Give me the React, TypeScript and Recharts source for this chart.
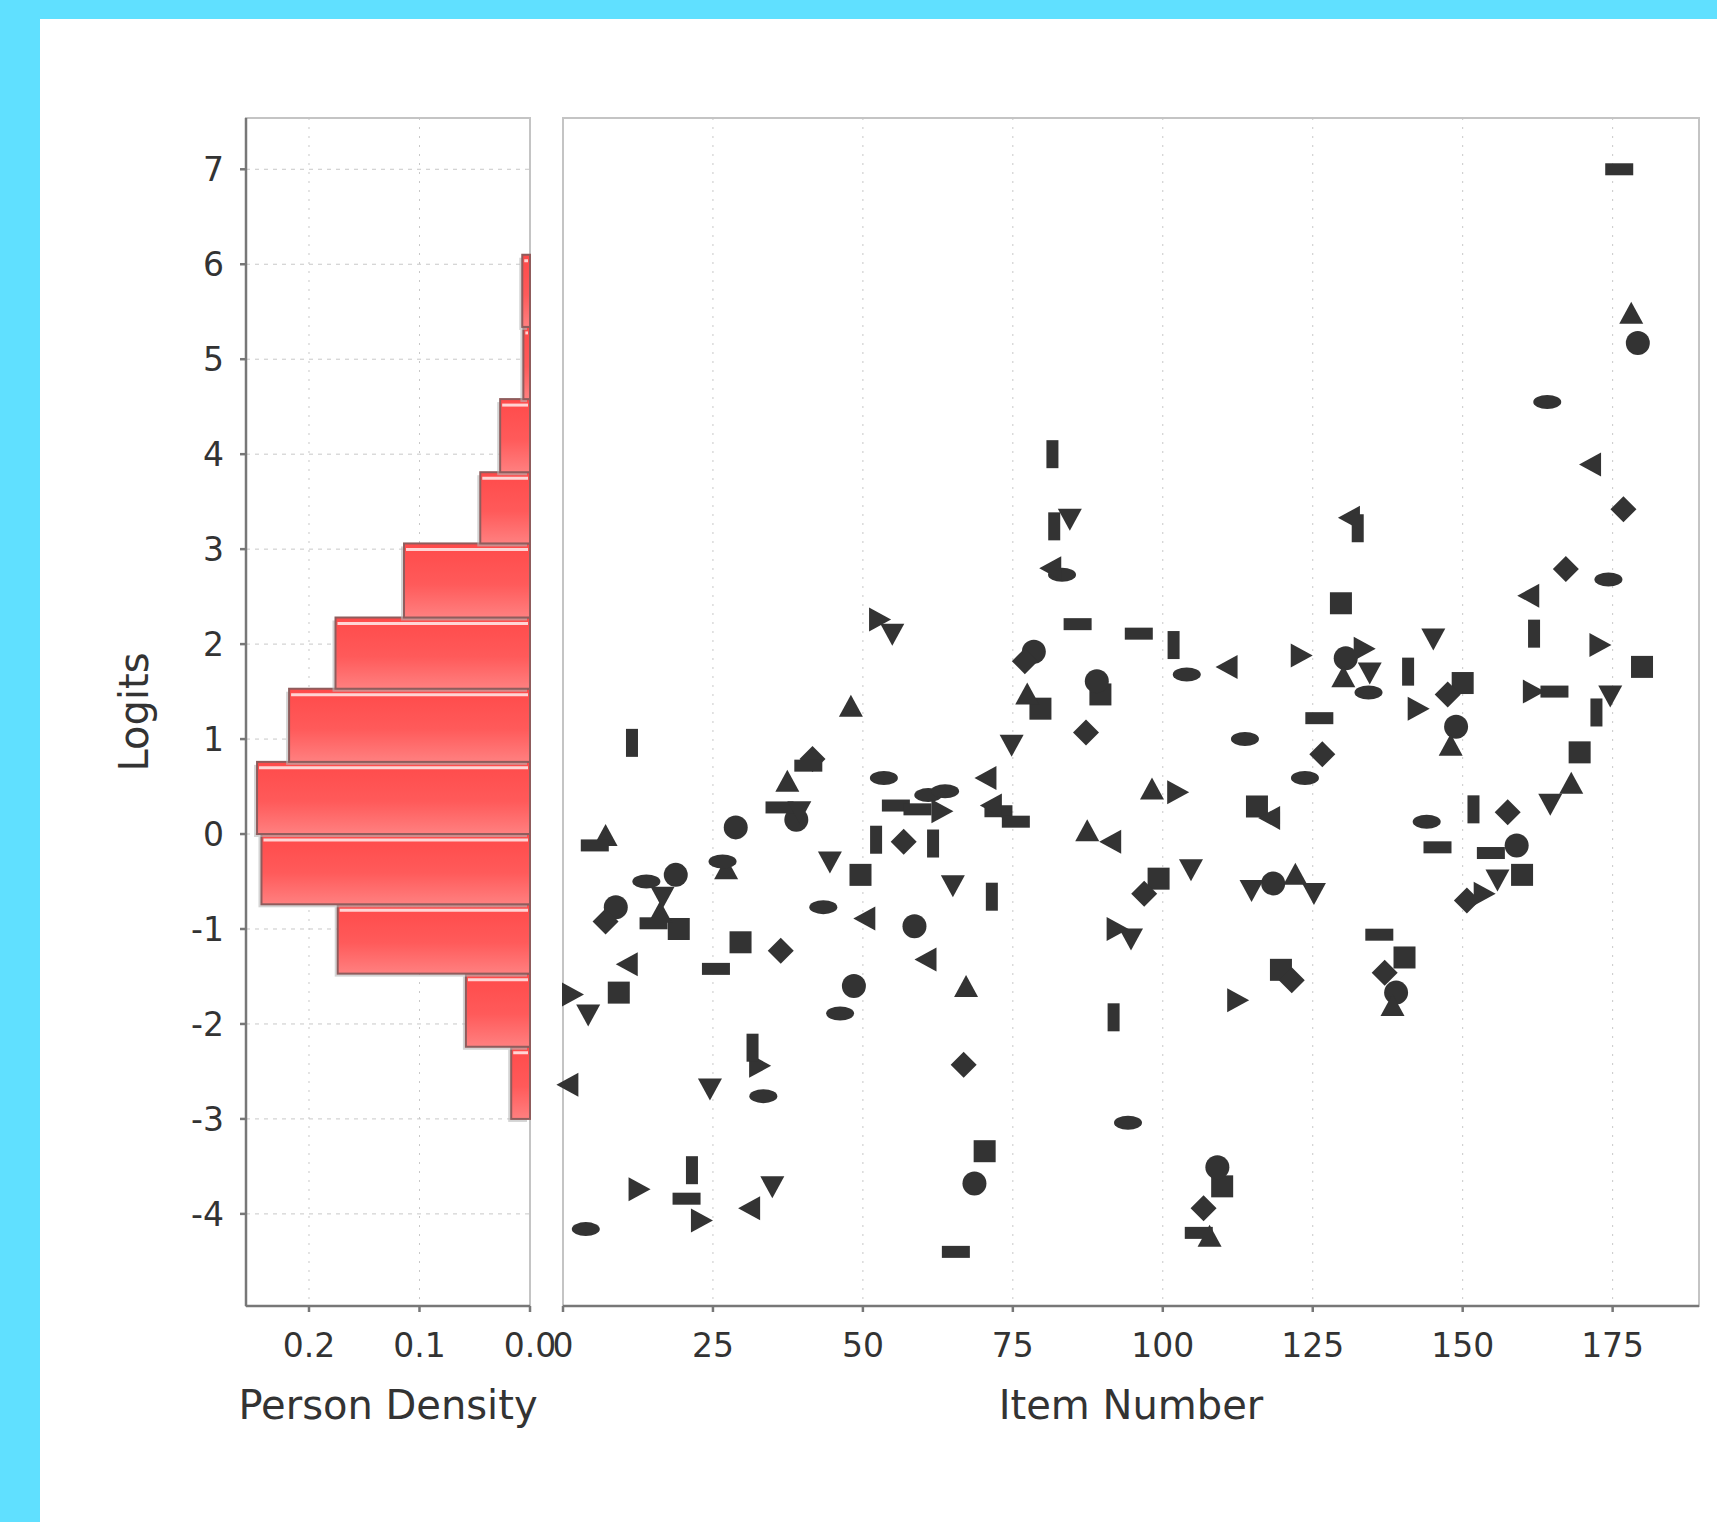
import React from 'react';
import {ScatterChart, Scatter, XAxis, YAxis, CartesianGrid, ReferenceArea} from 'recharts';

// person density histogram: [lower logit, upper logit, density]
const personBins = [
    [-3.0, -2.24, 0.017],
    [-2.24, -1.47, 0.058],
    [-1.47, -0.74, 0.174],
    [-0.74, 0.0, 0.243],
    [0.0, 0.76, 0.247],
    [0.76, 1.53, 0.218],
    [1.53, 2.28, 0.176],
    [2.28, 3.06, 0.114],
    [3.06, 3.81, 0.045],
    [3.81, 4.58, 0.027],
    [4.58, 5.34, 0.006],
    [5.34, 6.1, 0.007],
];

// items: [item number, logit], grouped by marker shape
const squares = [[129.7, 2.43], [179.9, 1.76], [150, 1.59], [79.6, 1.32], [89.6, 1.47], [169.5, 0.86], [49.6, -0.43], [29.6, -1.14], [19.3, -1.0], [9.3, -1.67], [70.3, -3.34], [109.9, -3.71], [119.7, -1.43], [140.3, -1.3], [99.3, -0.47], [115.7, 0.29], [159.9, -0.43]];
const circles = [[179.2, 5.17], [130.5, 1.85], [78.5, 1.92], [89, 1.61], [148.9, 1.13], [38.9, 0.15], [28.8, 0.07], [58.6, -0.97], [48.5, -1.6], [18.8, -0.43], [8.8, -0.77], [68.6, -3.68], [109.1, -3.51], [138.9, -1.67], [118.4, -0.52], [159, -0.12]];
const upTriangles = [[178.1, 5.48], [130.1, 1.65], [77.4, 1.47], [148, 0.93], [48, 1.34], [37.4, 0.55], [7.1, -0.02], [27.2, -0.37], [67.2, -1.61], [16.2, -0.83], [107.8, -4.24], [138.3, -1.81], [87.4, 0.03], [98.2, 0.47], [122.1, -0.43], [168.1, 0.53]];
const diamonds = [[176.8, 3.42], [167.2, 2.79], [147.5, 1.47], [77, 1.82], [87.2, 1.07], [126.6, 0.84], [41.6, 0.79], [56.8, -0.08], [36.3, -1.23], [7.1, -0.92], [66.8, -2.43], [106.8, -3.94], [121.5, -1.54], [137, -1.46], [96.9, -0.63], [157.5, 0.23], [150.7, -0.7]];
const hRects = [[176.1, 7.0], [85.8, 2.21], [96, 2.11], [165.3, 1.5], [126.1, 1.22], [40.9, 0.72], [36.1, 0.28], [55.5, 0.3], [59.1, 0.26], [72.6, 0.24], [75.5, 0.13], [5.3, -0.12], [25.5, -1.42], [15.1, -0.94], [65.5, -4.4], [20.6, -3.84], [106, -4.2], [136.1, -1.06], [145.8, -0.14], [154.7, -0.2]];
const downTriangles = [[84.5, 3.32], [54.9, 2.11], [145.1, 2.06], [134.5, 1.7], [174.6, 1.46], [74.8, 0.94], [39.4, 0.24], [44.5, -0.29], [65, -0.54], [16.6, -0.66], [4.2, -1.9], [24.5, -2.68], [34.9, -3.71], [94.7, -1.1], [104.7, -0.37], [114.8, -0.59], [125.2, -0.62], [164.6, 0.32], [155.8, -0.48]];
const ellipses = [[3.8, -4.16], [164.1, 4.55], [83.2, 2.73], [174.3, 2.68], [134.3, 1.49], [104, 1.68], [113.7, 1.0], [123.7, 0.59], [53.5, 0.59], [60.9, 0.41], [63.7, 0.45], [26.6, -0.29], [43.4, -0.77], [46.2, -1.89], [13.9, -0.5], [33.4, -2.76], [94.2, -3.04], [144, 0.13]];
const rightTriangles = [[52.7, 2.26], [172.8, 1.99], [123, 1.88], [133.5, 1.95], [142.5, 1.32], [161.7, 1.5], [63.1, 0.24], [1.5, -1.69], [32.7, -2.44], [12.6, -3.74], [23, -4.07], [112.4, -1.75], [92.3, -1.0], [102.4, 0.44], [153.5, -0.63]];
const vRects = [[81.6, 4.0], [132.5, 3.22], [81.9, 3.24], [101.8, 1.99], [161.9, 2.11], [140.9, 1.71], [172.3, 1.28], [11.5, 0.96], [52.2, -0.06], [61.7, -0.1], [71.5, -0.66], [31.6, -2.25], [91.8, -1.93], [21.5, -3.54], [151.8, 0.26]];
const leftTriangles = [[0.9, -2.64], [171.4, 3.89], [131.2, 3.33], [81.4, 2.8], [161.1, 2.51], [110.8, 1.76], [70.6, 0.59], [71.5, 0.3], [50.4, -0.89], [60.6, -1.32], [10.8, -1.37], [31.2, -3.94], [91.4, -0.08], [117.9, 0.17]];

const logitTicks = [-4, -3, -2, -1, 0, 1, 2, 3, 4, 5, 6, 7];
const densityTicks = [0, 0.1, 0.2];
const itemTicks = [0, 25, 50, 75, 100, 125, 150, 175];

const logitDomain = [-4.97, 7.54];
const INK = '#333';
const FONT = '"DejaVu Sans", sans-serif';
const tickStyle = {fontSize: 33, fill: '#333', fontFamily: FONT};

const toPoints = (rows) => rows.map(([item, logit]) => ({item, logit}));

const marker = (kind) => (props) => {
    const {cx, cy} = props;
    if (cx == null || cy == null) return <g/>;
    switch (kind) {
        case 'square':
            return <rect x={cx - 11} y={cy - 11} width={22} height={22} fill={INK}/>;
        case 'circle':
            return <circle cx={cx} cy={cy} r={12} fill={INK}/>;
        case 'up':
            return <polygon points={`${cx},${cy - 12} ${cx + 12},${cy + 10} ${cx - 12},${cy + 10}`} fill={INK}/>;
        case 'down':
            return <polygon points={`${cx - 12},${cy - 10} ${cx + 12},${cy - 10} ${cx},${cy + 12}`} fill={INK}/>;
        case 'left':
            return <polygon points={`${cx - 12},${cy} ${cx + 10},${cy - 12} ${cx + 10},${cy + 12}`} fill={INK}/>;
        case 'right':
            return <polygon points={`${cx + 12},${cy} ${cx - 10},${cy - 12} ${cx - 10},${cy + 12}`} fill={INK}/>;
        case 'diamond':
            return <polygon points={`${cx},${cy - 13} ${cx + 13},${cy} ${cx},${cy + 13} ${cx - 13},${cy}`} fill={INK}/>;
        case 'hrect':
            return <rect x={cx - 14} y={cy - 6} width={28} height={12} fill={INK}/>;
        case 'vrect':
            return <rect x={cx - 6} y={cy - 14} width={12} height={28} fill={INK}/>;
        case 'ellipse':
            return <ellipse cx={cx} cy={cy} rx={14} ry={7} fill={INK}/>;
        default:
            return <g/>;
    }
};

const series = [
    ['square', squares], ['circle', circles], ['up', upTriangles], ['diamond', diamonds],
    ['hrect', hRects], ['down', downTriangles], ['ellipse', ellipses], ['right', rightTriangles],
    ['vrect', vRects], ['left', leftTriangles],
];

let barId = 0;
const HistBar = (props) => {
    const {x, y, width, height} = props;
    if (x == null || width <= 0) return <g/>;
    const id = `hb${barId++}`;
    return (
        <g>
            <defs>
                <linearGradient id={id} x1="0" y1="0" x2="0" y2="1">
                    <stop offset="0%" stopColor="#ff4a4a"/>
                    <stop offset="55%" stopColor="#ff5a5a"/>
                    <stop offset="100%" stopColor="#ff8080"/>
                </linearGradient>
            </defs>
            <rect x={x - 3} y={y + 3} width={width} height={height} fill="#b8b8b8" opacity={0.6}/>
            <rect x={x} y={y} width={width} height={height} fill={`url(#${id})`} stroke="#8f5c5c" strokeWidth={2}/>
            {width > 6 && <line x1={x + 2} x2={x + width - 2} y1={y + 6} y2={y + 6} stroke="#ffd4d4" strokeWidth={3}/>}
        </g>
    );
};

const Frame = (props) => {
    const {x, y, width, height} = props;
    return <rect x={x} y={y} width={width} height={height} fill="none" stroke="#c4c4c4" strokeWidth={2}/>;
};

const titleLabel = (text) => ({viewBox}) => (
    <text x={viewBox.x + viewBox.width / 2} y={viewBox.y + 99} textAnchor="middle" dominantBaseline="central"
          fontSize={40} fill="#333" fontFamily={FONT}>{text}</text>
);

const logitsLabel = ({viewBox}) => {
    const lx = viewBox.x + 88;
    const ly = viewBox.y + viewBox.height / 2;
    return (
        <text x={lx} y={ly} transform={`rotate(-90, ${lx}, ${ly})`} textAnchor="middle" dominantBaseline="central"
              fontSize={40} fill="#333" fontFamily={FONT}>Logits</text>
    );
};

function DensityPanel() {
    const mids = personBins.map(([lo, hi, d]) => ({d, logit: (lo + hi) / 2}));
    return (
        <ScatterChart width={560} height={1522} margin={{top: 118, right: 30, bottom: 136, left: 46}}>
            <CartesianGrid horizontal={true} vertical={false} stroke="#c8c8c8" strokeDasharray="4 5"/>
            <CartesianGrid horizontal={false} vertical={true} stroke="#c8c8c8" strokeDasharray="2 7"/>
            <ReferenceArea shape={Frame} ifOverflow="hidden"/>
            {personBins.map(([lo, hi, d], i) => (
                <ReferenceArea key={i} x1={0} x2={d} y1={lo} y2={hi} shape={HistBar}/>
            ))}
            <XAxis type="number" dataKey="d" domain={[0, 0.257]} ticks={densityTicks} reversed
                   tickFormatter={(v) => v.toFixed(1)} height={80} tick={tickStyle}
                   tickSize={6} tickMargin={22} stroke="#777" strokeWidth={2.5}
                   label={titleLabel('Person Density')}/>
            <YAxis type="number" dataKey="logit" domain={logitDomain} ticks={logitTicks} width={200}
                   tick={tickStyle} tickSize={6} tickMargin={16} stroke="#777" strokeWidth={2.5}
                   label={logitsLabel}/>
            <Scatter data={mids} shape={() => <g/>} isAnimationActive={false}/>
        </ScatterChart>
    );
}

function ItemPanel() {
    return (
        <ScatterChart width={1177} height={1522} margin={{top: 118, right: 18, bottom: 136, left: 23}}>
            <CartesianGrid horizontal={true} vertical={false} stroke="#c8c8c8" strokeDasharray="4 5"/>
            <CartesianGrid horizontal={false} vertical={true} stroke="#c8c8c8" strokeDasharray="2 7"/>
            <ReferenceArea shape={Frame} ifOverflow="hidden"/>
            <XAxis type="number" dataKey="item" domain={[0, 189.4]} ticks={itemTicks} height={80}
                   tick={tickStyle} tickSize={6} tickMargin={22} stroke="#777" strokeWidth={2.5}
                   label={titleLabel('Item Number')}/>
            <YAxis type="number" dataKey="logit" domain={logitDomain} ticks={logitTicks} width={0}
                   tick={false} tickLine={false} stroke="#8a8a8a" strokeWidth={2}/>
            {series.map(([kind, rows]) => (
                <Scatter key={kind} data={toPoints(rows)} shape={marker(kind)} isAnimationActive={false}/>
            ))}
        </ScatterChart>
    );
}

export default function App() {
    return (
        <div style={{position: 'absolute', left: 0, top: 0, width: 1717, height: 1522, background: '#60e0ff', overflow: 'hidden'}}>
            <div style={{position: 'absolute', left: 40, top: 19, right: 0, bottom: 0, background: '#fff'}}/>
            <div style={{position: 'absolute', left: 0, top: 0}}>
                <DensityPanel/>
            </div>
            <div style={{position: 'absolute', left: 540, top: 0}}>
                <ItemPanel/>
            </div>
        </div>
    );
}
